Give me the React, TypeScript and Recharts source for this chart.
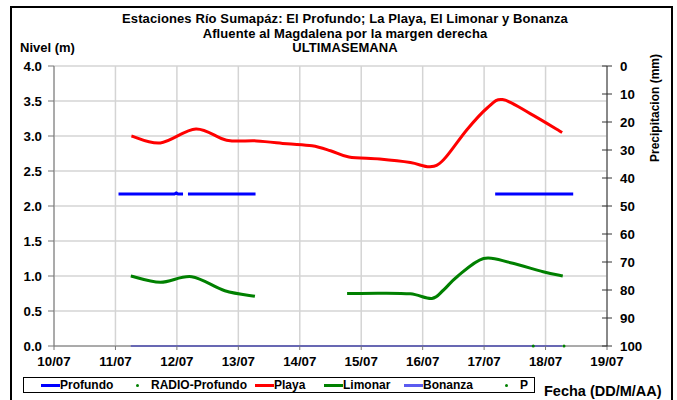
import React from 'react';
import { ComposedChart, Line, XAxis, YAxis, CartesianGrid } from 'recharts';

const dayTicks = [0, 1, 2, 3, 4, 5, 6, 7, 8, 9];
const dayLabels = ['10/07', '11/07', '12/07', '13/07', '14/07', '15/07', '16/07', '17/07', '18/07', '19/07'];
const levelTicks = [0, 0.5, 1, 1.5, 2, 2.5, 3, 3.5, 4];
const precipTicks = [0, 10, 20, 30, 40, 50, 60, 70, 80, 90, 100];

// days after 10/07 00:00, level in m
const profundo = [
  { d: 1.05, v: 2.17 }, { d: 1.96, v: 2.17 }, { d: 1.99, v: 2.185 }, { d: 2.02, v: 2.17 }, { d: 2.1, v: 2.17 },
  { d: 2.14, v: null },
  { d: 2.18, v: 2.17 }, { d: 3.28, v: 2.17 },
  { d: 5.0, v: null },
  { d: 7.18, v: 2.17 }, { d: 8.45, v: 2.17 },
];
const radioProfundo = [{ d: 7.8, v: 0 }, { d: 8.3, v: 0 }];
const playa = [
  { d: 1.26, v: 3.0 }, { d: 1.73, v: 2.9 }, { d: 2.31, v: 3.1 }, { d: 2.81, v: 2.94 }, { d: 3.3, v: 2.93 },
  { d: 3.79, v: 2.89 }, { d: 4.2, v: 2.86 }, { d: 4.5, v: 2.79 }, { d: 4.8, v: 2.7 }, { d: 5.3, v: 2.67 },
  { d: 5.8, v: 2.62 }, { d: 6.12, v: 2.56 }, { d: 6.34, v: 2.66 }, { d: 6.72, v: 3.09 }, { d: 7.05, v: 3.4 },
  { d: 7.3, v: 3.52 }, { d: 7.75, v: 3.32 }, { d: 8.27, v: 3.05 },
];
const limonar = [
  { d: 1.25, v: 1.0 }, { d: 1.73, v: 0.91 }, { d: 2.24, v: 0.99 }, { d: 2.78, v: 0.79 }, { d: 3.27, v: 0.71 },
  { d: 4.0, v: null },
  { d: 4.77, v: 0.75 }, { d: 5.3, v: 0.755 }, { d: 5.8, v: 0.745 }, { d: 6.15, v: 0.68 }, { d: 6.34, v: 0.8 },
  { d: 6.56, v: 0.99 }, { d: 6.99, v: 1.25 }, { d: 7.43, v: 1.19 }, { d: 7.96, v: 1.06 }, { d: 8.28, v: 1.0 },
];
const bonanza = [{ d: 1.25, v: 0 }, { d: 8.27, v: 0 }];
const precip: { d: number; p: number | null }[] = [];

// Catmull-Rom style smoothing similar to spreadsheet "smoothed line"
const smooth = (context: any) => {
  let pts: number[][] = [];
  return {
    areaStart() {},
    areaEnd() {},
    lineStart() { pts = []; },
    point(x: number, y: number) { pts.push([+x, +y]); },
    lineEnd() {
      const n = pts.length;
      if (!n) return;
      context.moveTo(pts[0][0], pts[0][1]);
      if (n === 1) { context.lineTo(pts[0][0], pts[0][1]); return; }
      for (let i = 0; i < n - 1; i++) {
        const p0 = pts[i - 1] || pts[i];
        const p1 = pts[i];
        const p2 = pts[i + 1];
        const p3 = pts[i + 2] || pts[i + 1];
        const c1x = p1[0] + (p2[0] - p0[0]) / 6;
        const c1y = p1[1] + (p2[1] - p0[1]) / 6;
        const c2x = p2[0] - (p3[0] - p1[0]) / 6;
        const c2y = p2[1] - (p3[1] - p1[1]) / 6;
        context.bezierCurveTo(c1x, c1y, c2x, c2y, p2[0], p2[1]);
      }
    },
  };
};

const FONT = '"Liberation Sans", Arial, sans-serif';
const TICK_FS = 13.3;

const RightTick = (props: any) => {
  const { x, y, payload } = props;
  return (
    <g>
      <line x1={x - 5} x2={x + 5} y1={y} y2={y} stroke="#333" strokeWidth={1} />
      <text x={x + 13} y={y} dy={5} fontSize={TICK_FS} fontWeight="bold" fill="#000" fontFamily={FONT}>
        {payload.value}
      </text>
    </g>
  );
};

const legendItems = [
  { label: 'Profundo', color: '#0000ff', kind: 'line', x: 41 },
  { label: 'RADIO-Profundo', color: '#008000', kind: 'dot', x: 127 },
  { label: 'Playa', color: '#ff0000', kind: 'line', x: 255 },
  { label: 'Limonar', color: '#008000', kind: 'line', x: 324 },
  { label: 'Bonanza', color: '#5b5bf0', kind: 'line', x: 404 },
  { label: 'P', color: '#008000', kind: 'dot', x: 496 },
];

const titleLines = [
  'Estaciones Río Sumapáz: El Profundo; La Playa, El Limonar y Bonanza',
  'Afluente al Magdalena por la margen derecha',
  'ULTIMASEMANA',
];

export default function App() {
  return (
    <div style={{ position: 'absolute', left: 0, top: 0, width: 677, height: 400, background: '#fff', overflow: 'hidden', fontFamily: FONT }}>
      <div style={{ position: 'absolute', left: 10, top: 6, width: 659, height: 400, border: '2px solid #000' }} />
      <div style={{ position: 'absolute', left: 0, top: 0 }}>
        <ComposedChart width={677} height={400} margin={{ top: 66, right: 10, bottom: 24, left: 10 }}>
          <CartesianGrid yAxisId="left" stroke="#d4d4d4" strokeWidth={1.5} horizontalValues={levelTicks} verticalValues={dayTicks} />
          <XAxis
            dataKey="d"
            type="number"
            domain={[0, 9]}
            ticks={dayTicks}
            allowDataOverflow
            tickFormatter={(v: number) => dayLabels[v]}
            height={30}
            tickSize={4}
            tickMargin={7}
            stroke="#777"
            tick={{ fill: '#000', fontSize: TICK_FS, fontWeight: 'bold', fontFamily: FONT }}
            interval={0}
          />
          <YAxis
            yAxisId="left"
            type="number"
            domain={[0, 4]}
            ticks={levelTicks}
            width={44}
            tickSize={6}
            tickMargin={6}
            stroke="#777"
            tickFormatter={(v: number) => v.toFixed(1)}
            tick={{ fill: '#000', fontSize: TICK_FS, fontWeight: 'bold', fontFamily: FONT }}
            interval={0}
          />
          <YAxis
            yAxisId="right"
            orientation="right"
            type="number"
            domain={[0, 100]}
            allowDataOverflow
            reversed
            ticks={precipTicks}
            width={60}
            tickSize={0}
            tickMargin={0}
            tickLine={false}
            stroke="#333"
            tick={<RightTick />}
            interval={0}
          />
          <Line yAxisId="right" data={precip} dataKey="p" stroke="none" dot={false} legendType="none" isAnimationActive={false} />
          <Line yAxisId="left" data={bonanza} dataKey="v" stroke="#5b5bf0" strokeWidth={2} dot={false} isAnimationActive={false} type="linear" />
          <Line yAxisId="left" data={profundo} dataKey="v" stroke="#0000ff" strokeWidth={3} dot={false} isAnimationActive={false} type="linear" />
          <Line yAxisId="left" data={playa} dataKey="v" stroke="#ff0000" strokeWidth={3} dot={false} isAnimationActive={false} type={smooth as any} />
          <Line yAxisId="left" data={limonar} dataKey="v" stroke="#008000" strokeWidth={3} dot={false} isAnimationActive={false} type={smooth as any} />
          <Line yAxisId="left" data={radioProfundo} dataKey="v" stroke="none" dot={{ r: 1.5, fill: '#008000', stroke: 'none' }} isAnimationActive={false} />
        </ComposedChart>
      </div>
      {titleLines.map((t, i) => (
        <div key={i} style={{ position: 'absolute', left: 0, width: 690, top: 12 + i * 14.5, height: 14.5, textAlign: 'center', fontSize: 13, fontWeight: 'bold', lineHeight: '14.5px', letterSpacing: 0.1, whiteSpace: 'nowrap' }}>
          {t}
        </div>
      ))}
      <div style={{ position: 'absolute', left: 20, top: 41, fontSize: 13, fontWeight: 'bold', lineHeight: '14.5px' }}>Nivel (m)</div>
      <div style={{ position: 'absolute', left: 655, top: 108, fontSize: 12, fontWeight: 'bold', whiteSpace: 'nowrap', transform: 'translate(-50%, -50%) rotate(-90deg)' }}>
        Precipitacion (mm)
      </div>
      <div style={{ position: 'absolute', left: 23, top: 377, width: 510, height: 14, border: '1px solid #000' }} />
      {legendItems.map((it) => (
        <div key={it.label} style={{ position: 'absolute', left: it.x, top: 378, height: 14, display: 'flex', alignItems: 'center', fontSize: 12, fontWeight: 'bold' }}>
          {it.kind === 'line' ? (
            <div style={{ width: 19, height: 3, background: it.color }} />
          ) : (
            <div style={{ width: 20, display: 'flex', justifyContent: 'center' }}>
              <div style={{ width: 3, height: 3, borderRadius: 2, background: it.color }} />
            </div>
          )}
          <span style={{ marginLeft: it.kind === 'dot' ? 4 : 0 }}>{it.label}</span>
        </div>
      ))}
      <div style={{ position: 'absolute', left: 544, top: 383, fontSize: 14.5, fontWeight: 'bold' }}>Fecha (DD/M/AA)</div>
    </div>
  );
}
